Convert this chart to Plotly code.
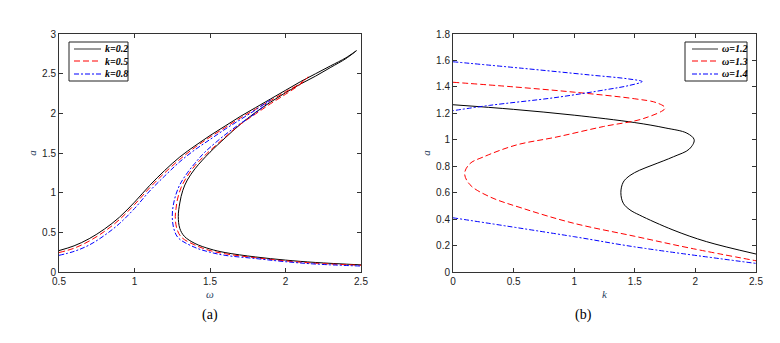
import plotly.graph_objects as go

# (a) amplitude a vs frequency omega, for three k
omega_k02 = [0.5, 0.6, 0.7, 0.8, 0.9, 1.0, 1.1, 1.2, 1.3, 1.4, 1.5, 1.6, 1.7, 1.8, 1.9, 2.0, 2.1, 2.2, 2.3, 2.4, 2.47,
             2.4, 2.3, 2.2, 2.1, 2.0, 1.9, 1.8, 1.7, 1.6, 1.5, 1.45, 1.4, 1.35, 1.32, 1.30, 1.29,
             1.30, 1.33, 1.4, 1.5, 1.6, 1.8, 2.0, 2.2, 2.5]
a_k02 = [0.27, 0.33, 0.42, 0.54, 0.69, 0.88, 1.09, 1.28, 1.45, 1.59, 1.72, 1.84, 1.96, 2.07, 2.18, 2.29, 2.40, 2.50, 2.60, 2.70, 2.79,
         2.69, 2.58, 2.47, 2.37, 2.26, 2.14, 2.01, 1.86, 1.69, 1.51, 1.41, 1.30, 1.16, 1.03, 0.87, 0.70,
         0.55, 0.45, 0.36, 0.29, 0.245, 0.19, 0.15, 0.12, 0.09]

omega_k05 = [0.5, 0.6, 0.7, 0.8, 0.9, 1.0, 1.1, 1.2, 1.3, 1.4, 1.5, 1.6, 1.7, 1.8, 1.9, 2.0, 2.1, 2.15,
             2.1, 2.0, 1.9, 1.8, 1.7, 1.6, 1.5, 1.45, 1.4, 1.35, 1.31, 1.285, 1.275, 1.27,
             1.28, 1.31, 1.4, 1.5, 1.6, 1.8, 2.0, 2.2, 2.5]
a_k05 = [0.245, 0.30, 0.39, 0.51, 0.66, 0.85, 1.06, 1.25, 1.42, 1.57, 1.70, 1.82, 1.94, 2.05, 2.16, 2.27, 2.38, 2.46,
         2.37, 2.24, 2.12, 1.99, 1.86, 1.70, 1.53, 1.44, 1.34, 1.21, 1.07, 0.92, 0.80, 0.70,
         0.55, 0.44, 0.34, 0.27, 0.23, 0.18, 0.14, 0.11, 0.085]

omega_k08 = [0.5, 0.6, 0.7, 0.8, 0.9, 1.0, 1.1, 1.2, 1.3, 1.4, 1.5, 1.6, 1.7, 1.8, 1.9,
             1.8, 1.7, 1.6, 1.5, 1.45, 1.4, 1.35, 1.3, 1.27, 1.255, 1.25,
             1.26, 1.29, 1.4, 1.5, 1.6, 1.8, 2.0, 2.2, 2.5]
a_k08 = [0.21, 0.26, 0.34, 0.46, 0.61, 0.80, 1.02, 1.21, 1.39, 1.54, 1.67, 1.80, 1.92, 2.04, 2.17,
         2.00, 1.87, 1.73, 1.57, 1.48, 1.37, 1.25, 1.10, 0.95, 0.82, 0.70,
         0.55, 0.43, 0.31, 0.25, 0.21, 0.17, 0.13, 0.10, 0.075]

# (b) amplitude a vs k, for three omega
k_w12 = [0.0, 0.5, 1.0, 1.5, 1.75, 1.93, 1.99, 1.95, 1.82, 1.65, 1.54, 1.46, 1.405, 1.385, 1.405, 1.46, 1.54, 1.815, 2.09, 2.5]
a_w12 = [1.265, 1.23, 1.186, 1.13, 1.09, 1.05, 1.0, 0.93, 0.872, 0.81, 0.77, 0.73, 0.68, 0.60, 0.52, 0.47, 0.43, 0.318, 0.23, 0.136]

k_w13 = [0.0, 0.5, 1.0, 1.5, 1.68, 1.75, 1.57, 1.24, 0.85, 0.52, 0.25, 0.14, 0.096, 0.14, 0.30, 0.58, 0.99, 1.5, 1.96, 2.5]
a_w13 = [1.435, 1.40, 1.36, 1.31, 1.28, 1.24, 1.16, 1.10, 1.02, 0.96, 0.87, 0.82, 0.745, 0.66, 0.57, 0.48, 0.37, 0.27, 0.18, 0.085]

k_w14 = [0.0, 0.58, 1.13, 1.45, 1.56, 1.45, 1.27, 0.85, 0.30, 0.0, None, 0.0, 1.0, 1.5, 2.5]
a_w14 = [1.59, 1.54, 1.49, 1.46, 1.44, 1.41, 1.38, 1.32, 1.26, 1.22, None, 0.41, 0.267, 0.19, 0.065]

serif = "Liberation Serif"
sans = "Liberation Sans"
dash_red = "6px,3px"
dash_blue = "5px,2px,2px,2px"

fig = go.Figure()

def add(x, y, color, dash, xa, ya):
    fig.add_trace(go.Scatter(
        x=x, y=y, mode="lines", xaxis=xa, yaxis=ya, showlegend=False, hoverinfo="skip",
        line=dict(color=color, width=1.0, dash=dash, shape="spline", smoothing=1.0),
        connectgaps=False,
    ))

add(omega_k02, a_k02, "black", "solid", "x", "y")
add(omega_k05, a_k05, "red", dash_red, "x", "y")
add(omega_k08, a_k08, "blue", dash_blue, "x", "y")

add(k_w12, a_w12, "black", "solid", "x2", "y2")
add(k_w13, a_w13, "red", dash_red, "x2", "y2")
add(k_w14, a_w14, "blue", dash_blue, "x2", "y2")

ax = dict(showline=True, linecolor="#333", linewidth=1, mirror="ticks", ticks="inside",
          ticklen=4, tickcolor="#333", showgrid=False, zeroline=False, automargin=False,
          tickfont=dict(family=sans, size=10, color="#222"))

ydom = [1 - 272 / 343, 1 - 34 / 343]
fig.update_layout(
    width=780, height=343,
    margin=dict(l=0, r=0, t=0, b=0),
    paper_bgcolor="white", plot_bgcolor="white",
    showlegend=False,
    xaxis=dict(ax, domain=[59 / 780, 361 / 780], range=[0.5, 2.5], tickvals=[0.5, 1, 1.5, 2, 2.5],
               ticktext=["0.5", "1", "1.5", "2", "2.5"], anchor="y",
               title=dict(text="<i>ω</i>", font=dict(family=serif, size=11), standoff=4)),
    yaxis=dict(ax, domain=ydom, range=[0, 3], tickvals=[0, 0.5, 1, 1.5, 2, 2.5, 3],
               ticktext=["0", "0.5", "1", "1.5", "2", "2.5", "3"], anchor="x",
               title=dict(text="<i>a</i>", font=dict(family=serif, size=11), standoff=3)),
    xaxis2=dict(ax, domain=[453 / 780, 756 / 780], range=[0, 2.5], tickvals=[0, 0.5, 1, 1.5, 2, 2.5],
                ticktext=["0", "0.5", "1", "1.5", "2", "2.5"], anchor="y2",
                title=dict(text="<i>k</i>", font=dict(family=serif, size=11), standoff=4)),
    yaxis2=dict(ax, domain=ydom, range=[0, 1.8], tickvals=[0, 0.2, 0.4, 0.6, 0.8, 1, 1.2, 1.4, 1.6, 1.8],
                ticktext=["0", "0.2", "0.4", "0.6", "0.8", "1", "1.2", "1.4", "1.6", "1.8"], anchor="x2",
                title=dict(text="<i>a</i>", font=dict(family=serif, size=11), standoff=3)),
)

# compact legends (pixel-placed, MATLAB style)
def px(x):
    return x / 780

def py(y):
    return 1 - y / 343

def legend(x0, x1, y0, y1, line_x0, line_x1, labels):
    fig.add_shape(type="rect", xref="paper", yref="paper", x0=px(x0), x1=px(x1), y0=py(y0), y1=py(y1),
                  line=dict(color="#222", width=1), fillcolor="white", layer="above")
    rows = [49, 61, 74]
    for (label, color, dash), yy in zip(labels, rows):
        fig.add_shape(type="line", xref="paper", yref="paper", x0=px(line_x0), x1=px(line_x1),
                      y0=py(yy), y1=py(yy), line=dict(color=color, width=1.2, dash=dash), layer="above")
        fig.add_annotation(text=label, xref="paper", yref="paper", x=px(line_x1 + 2), y=py(yy),
                           xanchor="left", yanchor="middle", showarrow=False,
                           font=dict(family=serif, size=10, color="black"))

legend(69, 128, 42, 81, 74, 101, [("<b><i>k=0.2</i></b>", "#555", "solid"),
                                  ("<b><i>k=0.5</i></b>", "red", dash_red),
                                  ("<b><i>k=0.8</i></b>", "blue", dash_blue)])
legend(685, 747, 42, 81, 692, 718, [("<b><i>ω=1.2</i></b>", "#555", "solid"),
                                    ("<b><i>ω=1.3</i></b>", "red", dash_red),
                                    ("<b><i>ω=1.4</i></b>", "blue", dash_blue)])

fig.add_annotation(text="(a)", x=px(200), y=py(325), xref="paper", yref="paper",
                   showarrow=False, font=dict(family=serif, size=14, color="black"))
fig.add_annotation(text="(b)", x=px(594), y=py(325), xref="paper", yref="paper",
                   showarrow=False, font=dict(family=serif, size=14, color="black"))

fig.write_html("out.html", config={"displayModeBar": False},
               post_script="document.body.style.margin='0';")
